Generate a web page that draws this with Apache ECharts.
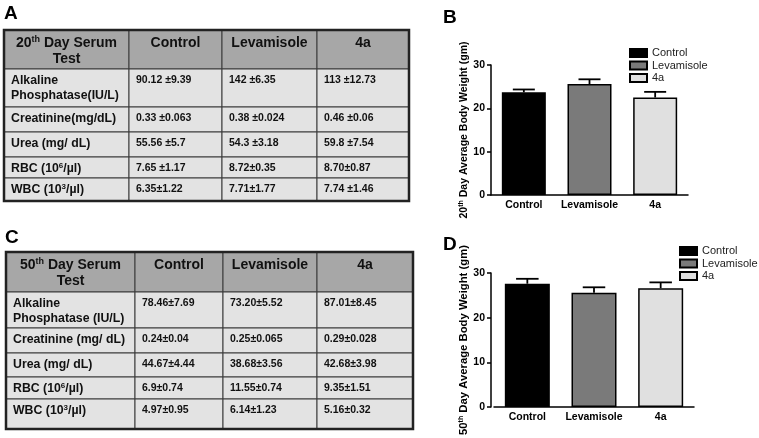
<!DOCTYPE html>
<html>
<head>
<meta charset="utf-8">
<script src="https://cdn.jsdelivr.net/npm/echarts@6/dist/echarts.min.js"></script>
<style>html,body{margin:0;padding:0;background:#fff}#c{width:759px;height:438px}</style>
</head>
<body>
<div id="c"></div>
<script>
// ---------------- DATA ----------------
const categories = ['Control', 'Levamisole', '4a'];

// Panel B: 20th day average body weight (gm)
const weight20Mean = [23.7, 25.6, 22.5];
const weight20Err = [0.65, 1.1, 1.3];
// Panel D: 50th day average body weight (gm)
const weight50Mean = [27.6, 25.6, 26.6];
const weight50Err = [1.1, 1.2, 1.3];

// Panel A: 20th day serum test table
const header20 = '20^th Day Serum\nTest';
const tests20 = ['Alkaline\nPhosphatase(IU/L)', 'Creatinine(mg/dL)', 'Urea (mg/ dL)', 'RBC (10^6/µl)', 'WBC (10^3/µl)'];
const serum20Control = ['90.12 ±9.39', '0.33 ±0.063', '55.56 ±5.7', '7.65 ±1.17', '6.35±1.22'];
const serum20Levamisole = ['142 ±6.35', '0.38 ±0.024', '54.3 ±3.18', '8.72±0.35', '7.71±1.77'];
const serum20_4a = ['113 ±12.73', '0.46 ±0.06', '59.8 ±7.54', '8.70±0.87', '7.74 ±1.46'];

// Panel C: 50th day serum test table
const header50 = '50^th Day Serum\nTest';
const tests50 = ['Alkaline\nPhosphatase (IU/L)', 'Creatinine (mg/ dL)', 'Urea (mg/ dL)', 'RBC (10^6/µl)', 'WBC (10^3/µl)'];
const serum50Control = ['78.46±7.69', '0.24±0.04', '44.67±4.44', '6.9±0.74', '4.97±0.95'];
const serum50Levamisole = ['73.20±5.52', '0.25±0.065', '38.68±3.56', '11.55±0.74', '6.14±1.23'];
const serum50_4a = ['87.01±8.45', '0.29±0.028', '42.68±3.98', '9.35±1.51', '5.16±0.32'];

// ---------------- STYLE / LAYOUT ----------------
const F = 'Liberation Sans, Arial, Helvetica, sans-serif';
const barColors = ['#000000', '#7a7a7a', '#e0e0e0'];
const layoutA = { cols: [0, 125, 218, 313, 405], rows: [0, 39, 77, 102, 127, 148, 171] };
const layoutC = { cols: [0, 129, 217, 311, 407], rows: [0, 40, 76, 101, 125, 147, 177] };

function toRich(s) {
  return s.split('\n').map(function (line) {
    return line.split(/\^(\w+)/).map(function (part, i) {
      if (part === '') return '';
      return i % 2 ? '{s|' + part + '}' : '{n|' + part + '}';
    }).join('');
  }).join('\n');
}

function tableSeries(axisIndex, header, tests, columns, layout) {
  const cells = [];
  cells.push({ c: 0, r: 0, text: header, kind: 'head' });
  categories.forEach(function (g, i) { cells.push({ c: i + 1, r: 0, text: g, kind: 'head' }); });
  tests.forEach(function (t, j) {
    cells.push({ c: 0, r: j + 1, text: t, kind: 'label' });
    columns.forEach(function (col, i) { cells.push({ c: i + 1, r: j + 1, text: col[j], kind: 'value' }); });
  });
  return {
    type: 'custom',
    xAxisIndex: axisIndex,
    yAxisIndex: axisIndex,
    silent: true,
    data: cells.map(function (c) { return [c.c, c.r]; }),
    renderItem: function (params, api) {
      const cell = cells[params.dataIndex];
      const c = api.value(0), r = api.value(1);
      const p0 = api.coord([layout.cols[c], layout.rows[r]]);
      const p1 = api.coord([layout.cols[c + 1], layout.rows[r + 1]]);
      const x = p0[0], y = p0[1], w = p1[0] - p0[0], h = p1[1] - p0[1];
      let fs, lh, tx, align, ty;
      if (cell.kind === 'head') { fs = 14; lh = 16; tx = x + w / 2; align = 'center'; ty = y + 5; }
      else if (cell.kind === 'label') { fs = 12.3; lh = 15; tx = x + 7; align = 'left'; ty = y + 4.5; }
      else { fs = 10.5; lh = 15; tx = x + 7; align = 'left'; ty = y + 4; }
      return {
        type: 'group',
        children: [
          { type: 'rect', shape: { x: x, y: y, width: w, height: h },
            style: { fill: cell.kind === 'head' ? '#a7a7a7' : '#e3e3e3', stroke: '#3a3a3a', lineWidth: 1 } },
          { type: 'text', style: {
              x: tx, y: ty, text: toRich(cell.text), align: align, verticalAlign: 'top',
              fill: '#111', fontFamily: F, fontSize: fs, fontWeight: 'bold', lineHeight: lh,
              rich: {
                n: { fontFamily: F, fontSize: fs, fontWeight: 'bold', lineHeight: lh, fill: '#111' },
                s: { fontFamily: F, fontSize: Math.round(fs * 0.62), fontWeight: 'bold', lineHeight: Math.round(fs * 0.62) + 1, verticalAlign: 'top', fill: '#111' }
              }
          } }
        ]
      };
    }
  };
}

function barSeries(axisIndex, means, barWidth) {
  return categories.map(function (name, i) {
    return {
      name: name, type: 'bar', xAxisIndex: axisIndex, yAxisIndex: axisIndex,
      barWidth: barWidth, barGap: '-100%',
      data: means.map(function (v, j) { return j === i ? v : '-'; }),
      itemStyle: { color: barColors[i], borderColor: '#000', borderWidth: 1.5 },
      silent: true
    };
  });
}

function errSeries(axisIndex, means, errs, barWidth) {
  return {
    type: 'custom', xAxisIndex: axisIndex, yAxisIndex: axisIndex, silent: true, z: 5,
    data: means.map(function (m, i) { return [i, m, m + errs[i]]; }),
    renderItem: function (params, api) {
      const base = api.coord([api.value(0), api.value(1)]);
      const top = api.coord([api.value(0), api.value(2)]);
      const half = barWidth / 4;
      const st = { stroke: '#000', lineWidth: 1.8 };
      return { type: 'group', children: [
        { type: 'line', shape: { x1: base[0], y1: base[1], x2: top[0], y2: top[1] }, style: st },
        { type: 'line', shape: { x1: top[0] - half, y1: top[1], x2: top[0] + half, y2: top[1] }, style: st }
      ] };
    }
  };
}

function valueAxis(gridIndex, name, nameSize, nameGap, offset) {
  return {
    type: 'value', gridIndex: gridIndex, min: 0, max: 30, interval: 10, offset: offset || 0,
    axisLine: { show: true, lineStyle: { color: '#000', width: 1.5 } },
    axisTick: { show: true, length: 4, lineStyle: { color: '#000', width: 1.5 } },
    axisLabel: { fontSize: 10.5, fontWeight: 'bold', color: '#000', margin: 6, fontFamily: F },
    splitLine: { show: false },
    name: toRich(name), nameLocation: 'middle', nameGap: nameGap, nameRotate: 90,
    nameTextStyle: {
      color: '#000', fontFamily: F, fontWeight: 'bold', fontSize: nameSize,
      rich: {
        n: { color: '#000', fontFamily: F, fontWeight: 'bold', fontSize: nameSize, lineHeight: nameSize + 2 },
        s: { color: '#000', fontFamily: F, fontWeight: 'bold', fontSize: Math.round(nameSize * 0.65), lineHeight: Math.round(nameSize * 0.65) + 1, verticalAlign: 'top' }
      }
    }
  };
}

function catAxis(gridIndex) {
  return {
    type: 'category', gridIndex: gridIndex, data: categories,
    axisLine: { show: true, lineStyle: { color: '#000', width: 1.5 } },
    axisTick: { show: false },
    axisLabel: { interval: 0, fontSize: 10.5, fontWeight: 'bold', color: '#000', margin: 5, fontFamily: F }
  };
}

function hiddenAxis(gridIndex, max, inverse) {
  return { type: 'value', gridIndex: gridIndex, min: 0, max: max, inverse: !!inverse, show: false,
           axisLine: { show: false }, splitLine: { show: false } };
}

function legend(left, top) {
  return {
    data: categories, orient: 'vertical', left: left, top: top, icon: 'rect', padding: 0,
    itemWidth: 17, itemHeight: 8, itemGap: 1.5, selectedMode: false,
    textStyle: { fontSize: 11, color: '#222', fontFamily: F, lineHeight: 11 }
  };
}

function panelTitle(text, left, top) {
  return { text: text, left: left, top: top, padding: 0,
           textStyle: { fontSize: 19, fontWeight: 'bold', color: '#000', fontFamily: F } };
}

const option = {
  animation: false,
  textStyle: { fontFamily: F },
  title: [panelTitle('A', 4, 4), panelTitle('B', 443, 8), panelTitle('C', 5, 228), panelTitle('D', 443, 235)],
  legend: [legend(629, 47.5), legend(679, 245.5)],
  grid: [
    { left: 4, top: 30, width: 405, height: 171, show: true, borderColor: '#222', borderWidth: 2.5, z: 10 },
    { left: 491, top: 65, width: 197, height: 130 },
    { left: 6, top: 252, width: 407, height: 177, show: true, borderColor: '#222', borderWidth: 2.5, z: 10 },
    { left: 494, top: 273, width: 200, height: 134 }
  ],
  xAxis: [hiddenAxis(0, 405), catAxis(1), hiddenAxis(2, 407), catAxis(3)],
  yAxis: [
    hiddenAxis(0, 171, true),
    valueAxis(1, '20^th Day Average Body Weight (gm)', 10.5, 18, 0),
    hiddenAxis(2, 177, true),
    valueAxis(3, '50^th Day Average Body Weight (gm)', 11.3, 18, 3)
  ],
  series: [].concat(
    [tableSeries(0, header20, tests20, [serum20Control, serum20Levamisole, serum20_4a], layoutA)],
    barSeries(1, weight20Mean, 44),
    [errSeries(1, weight20Mean, weight20Err, 44)],
    [tableSeries(2, header50, tests50, [serum50Control, serum50Levamisole, serum50_4a], layoutC)],
    barSeries(3, weight50Mean, 45),
    [errSeries(3, weight50Mean, weight50Err, 45)]
  )
};

const chart = echarts.init(document.getElementById('c'), null, { renderer: 'canvas' });
chart.setOption(option);
</script>
</body>
</html>
